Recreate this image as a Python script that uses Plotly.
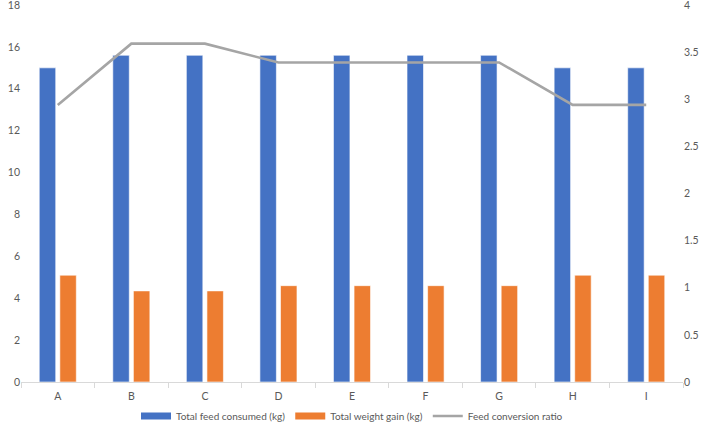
import plotly.graph_objects as go

categories = ["A", "B", "C", "D", "E", "F", "G", "H", "I"]
feed_consumed = [15.0, 15.6, 15.6, 15.6, 15.6, 15.6, 15.6, 15.0, 15.0]
weight_gain = [5.1, 4.35, 4.35, 4.6, 4.6, 4.6, 4.6, 5.1, 5.1]
fcr = [2.94, 3.59, 3.59, 3.39, 3.39, 3.39, 3.39, 2.94, 2.94]
left_ticks = [0, 2, 4, 6, 8, 10, 12, 14, 16, 18]
right_ticks = [0, 0.5, 1, 1.5, 2, 2.5, 3, 3.5, 4]
right_labels = ["0", "0.5", "1", "1.5", "2", "2.5", "3", "3.5", "4"]

BLUE = "#4472C4"
ORANGE = "#ED7D31"
GRAY = "#A5A5A5"
TXT = "#595959"
FONT = "Liberation Sans Narrow, Lato"

fig = go.Figure()
fig.add_trace(go.Bar(x=categories, y=feed_consumed, name="Total feed consumed (kg)",
                     marker=dict(color=BLUE, line=dict(color="#ffffff", width=0.6)),
                     showlegend=False))
fig.add_trace(go.Bar(x=categories, y=weight_gain, name="Total weight gain (kg)",
                     marker=dict(color=ORANGE, line=dict(color="#ffffff", width=0.6)),
                     showlegend=False))
fig.add_trace(go.Scatter(x=categories, y=fcr, name="Feed conversion ratio", yaxis="y2",
                         mode="lines", line=dict(color=GRAY, width=2.6), showlegend=False))

# legend-only entries (Excel-style wide swatches)
for nm, col, w in [("Total feed consumed (kg)", BLUE, 7),
                   ("Total weight gain (kg)", ORANGE, 7),
                   ("Feed conversion ratio", GRAY, 2.6)]:
    fig.add_trace(go.Scatter(x=[None], y=[None], mode="lines", name=nm,
                             line=dict(color=col, width=w), showlegend=True))

fig.update_layout(
    width=706, height=423,
    margin=dict(l=21, r=23, t=5, b=41, autoexpand=False),
    paper_bgcolor="white", plot_bgcolor="white",
    font=dict(family=FONT, size=10.5, color=TXT),
    barmode="group", bargap=0.44, bargroupgap=0.2,
    xaxis=dict(type="category", showline=True, linecolor="#D9D9D9", linewidth=1,
               ticks="outside", tickson="boundaries", ticklen=5, tickcolor="#D9D9D9",
               showgrid=False, ticklabelstandoff=4),
    yaxis=dict(range=[0, 18], tickvals=left_ticks, showgrid=False, zeroline=False,
               showline=False, ticks="", ticklabeloverflow="allow"),
    yaxis2=dict(range=[0, 4], tickvals=right_ticks, ticktext=right_labels,
                overlaying="y", side="right",
                showgrid=False, zeroline=False, showline=False, ticks="",
                ticklabeloverflow="allow"),
    legend=dict(orientation="h", x=0.5, xanchor="center", y=-0.09, yanchor="middle",
                itemwidth=30, traceorder="normal", font=dict(size=10)),
)

fig.write_html("out.html", config={"displayModeBar": False},
               post_script="document.body.style.margin='0';document.body.style.overflow='hidden';")
